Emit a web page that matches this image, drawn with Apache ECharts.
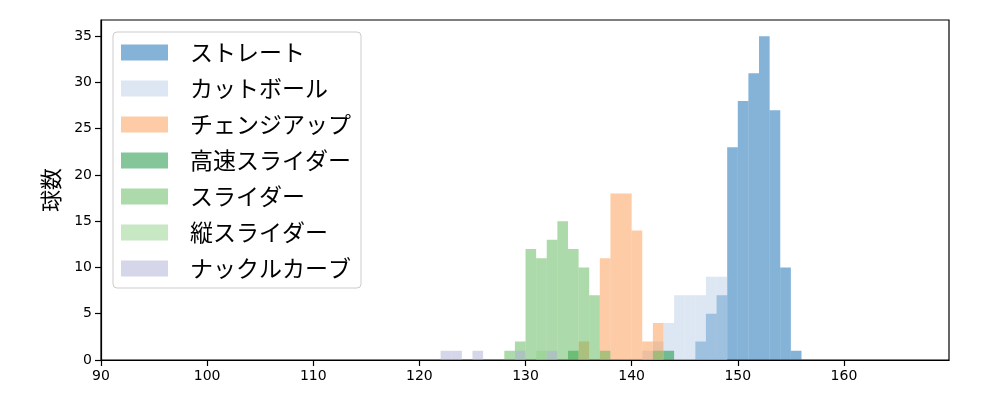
<!DOCTYPE html>
<html>
<head>
<meta charset="utf-8">
<script src="https://cdn.jsdelivr.net/npm/echarts@6/dist/echarts.min.js"></script>
<style>html,body{margin:0;padding:0;background:#fff}#chart{width:1000px;height:400px}</style>
</head>
<body>
<div id="chart"></div>
<script>
// Histogram bins (left edge, width 1 km/h) and counts per pitch type
const seriesNames = ['ストレート','カットボール','チェンジアップ','高速スライダー','スライダー','縦スライダー','ナックルカーブ'];
const straightBins = [146,147,148,149,150,151,152,153,154,155];
const straightCounts = [2,5,7,23,28,31,35,27,10,1];
const cutBins = [141,142,143,144,145,146,147,148];
const cutCounts = [1,2,4,7,7,7,9,9];
const changeBins = [135,137,138,139,140,141,142];
const changeCounts = [2,11,18,18,14,2,4];
const fastSliderBins = [134,143];
const fastSliderCounts = [1,1];
const sliderBins = [128,129,130,131,132,133,134,135,136,137,142];
const sliderCounts = [1,2,12,11,13,15,12,10,7,1,1];
const vSliderBins = [131];
const vSliderCounts = [1];
const knuckleBins = [122,123,125,129,132];
const knuckleCounts = [1,1,1,1,1];
const xTicks = [90,100,110,120,130,140,150,160];
const yTicks = [0,5,10,15,20,25,30,35];
const binWidth = 1;

const colors = ['rgba(9,103,175,0.5)','rgba(185,207,231,0.5)','rgba(251,151,75,0.5)','rgba(9,141,53,0.5)','rgba(89,181,85,0.5)','rgba(145,209,137,0.5)','rgba(173,173,213,0.5)'];
const binsList = [straightBins,cutBins,changeBins,fastSliderBins,sliderBins,vSliderBins,knuckleBins];
const countsList = [straightCounts,cutCounts,changeCounts,fastSliderCounts,sliderCounts,vSliderCounts,knuckleCounts];

const chart = echarts.init(document.getElementById('chart'));
const series = seriesNames.map((name, i) => ({
  type: 'custom',
  name: name,
  itemStyle: { color: colors[i] },
  encode: { x: 0, y: 1 },
  data: binsList[i].map((b, j) => [b, countsList[i][j]]),
  renderItem: function (params, api) {
    const x0 = api.value(0), c = api.value(1);
    const p0 = api.coord([x0, 0]);
    const p1 = api.coord([x0 + binWidth, c]);
    return {
      type: 'rect',
      shape: { x: p0[0], y: p1[1], width: p1[0] - p0[0], height: p0[1] - p1[1] },
      style: { fill: colors[i] }
    };
  },
  z: 2 + i
}));

const tickFont = { fontFamily: 'DejaVu Sans', fontSize: 14, color: '#000' };
chart.setOption({
  animation: false,
  grid: { left: 101, right: 51, top: 20, bottom: 40, show: true, borderColor: '#000', borderWidth: 1.2, backgroundColor: 'transparent' },
  xAxis: {
    type: 'value', min: 90, max: 169.9, interval: 10,
    axisLine: { show: true, lineStyle: { color: '#000', width: 1.2 } },
    axisTick: { show: true, length: 6, customValues: xTicks, lineStyle: { color: '#000', width: 1.2 } },
    axisLabel: Object.assign({ margin: 9, customValues: xTicks, formatter: v => xTicks.includes(v) ? String(v) : '' }, tickFont),
    splitLine: { show: false }
  },
  yAxis: {
    type: 'value', min: 0, max: 36.75, interval: 5,
    name: '球数', nameLocation: 'middle', nameGap: 39, nameRotate: 90,
    nameTextStyle: { fontFamily: 'Noto Sans CJK JP', fontSize: 22, color: '#000' },
    axisLine: { show: true, lineStyle: { color: '#000', width: 1.2 } },
    axisTick: { show: true, length: 6, customValues: yTicks, lineStyle: { color: '#000', width: 1.2 } },
    axisLabel: Object.assign({ margin: 9, customValues: yTicks, formatter: v => yTicks.includes(v) ? String(v) : '' }, tickFont),
    splitLine: { show: false }
  },
  legend: {
    orient: 'vertical', left: 113, top: 32,
    data: seriesNames.map((n, i) => ({ name: n, icon: 'rect', itemStyle: { color: colors[i] } })),
    itemWidth: 47, itemHeight: 16, itemGap: 13,
    padding: [9, 10, 8, 8],
    backgroundColor: '#fff', borderColor: '#ccc', borderWidth: 1, borderRadius: 4,
    textStyle: { fontFamily: 'Noto Sans CJK JP', fontSize: 23, color: '#000', lineHeight: 20, padding: [0, 0, 0, 17] },
    selectedMode: false
  },
  series: series
});
</script>
</body>
</html>
